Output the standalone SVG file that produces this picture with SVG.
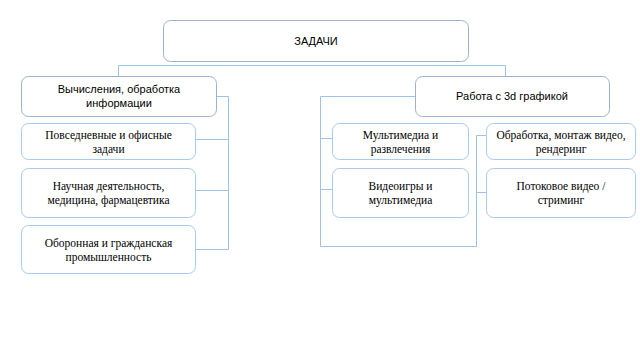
<svg xmlns="http://www.w3.org/2000/svg" width="640" height="360" viewBox="0 0 640 360">
<style>
.main{fill:#fff;stroke:#9cb3cc;stroke-width:1}
.sub{fill:#fff;stroke:#a9cbec;stroke-width:1}
.ln{fill:none;stroke:#9dc3e6;stroke-width:1}
.s{font-family:"Liberation Sans",Arial,sans-serif;font-size:11px;fill:#000;text-anchor:middle}
.t{font-family:"Liberation Serif","Times New Roman",serif;font-size:11.5px;fill:#000;text-anchor:middle}
</style>
<rect width="640" height="360" fill="#fff"/>
<g id="connectors">
<polyline class="ln" points="118.5,76 118.5,65.5 505.5,65.5 505.5,76"/>
<polyline class="ln" points="217,96.5 228.5,96.5 228.5,249.5 196,249.5"/>
<line class="ln" x1="196" y1="139.5" x2="228.5" y2="139.5"/>
<line class="ln" x1="196" y1="190.5" x2="228.5" y2="190.5"/>
<polyline class="ln" points="415,96.5 320.5,96.5 320.5,246.5 476.5,246.5 476.5,135.5 486,135.5"/>
<line class="ln" x1="476.5" y1="192.5" x2="486" y2="192.5"/>
<line class="ln" x1="320.5" y1="138.5" x2="332" y2="138.5"/>
<line class="ln" x1="320.5" y1="189.5" x2="332" y2="189.5"/>
</g>
<g id="root">
<rect class="main" x="163.5" y="20.5" width="305" height="41" rx="7"/>
<text class="s" x="316" y="45">ЗАДАЧИ</text>
</g>
<g id="calc">
<rect class="main" x="21.5" y="76.5" width="195" height="40" rx="7"/>
<text class="s" x="119" y="93">Вычисления, обработка</text>
<text class="s" x="119" y="107">информации</text>
</g>
<g id="daily">
<rect class="sub" x="21.5" y="123.5" width="174" height="36" rx="7"/>
<text class="t" x="108.5" y="139">Повседневные и офисные</text>
<text class="t" x="108.5" y="153">задачи</text>
</g>
<g id="science">
<rect class="sub" x="21.5" y="168.5" width="174" height="49" rx="7"/>
<text class="t" x="108.5" y="190">Научная деятельность,</text>
<text class="t" x="108.5" y="204">медицина, фармацевтика</text>
</g>
<g id="defense">
<rect class="sub" x="21.5" y="225.5" width="174" height="48" rx="7"/>
<text class="t" x="108.5" y="247">Оборонная и гражданская</text>
<text class="t" x="108.5" y="261">промышленность</text>
</g>
<g id="graphics">
<rect class="main" x="415.5" y="76.5" width="194" height="40" rx="7"/>
<text class="s" x="512" y="100">Работа с 3d графикой</text>
</g>
<g id="multimedia">
<rect class="sub" x="332.5" y="123.5" width="136" height="36" rx="7"/>
<text class="t" x="400.5" y="139">Мультимедиа и</text>
<text class="t" x="400.5" y="153">развлечения</text>
</g>
<g id="games">
<rect class="sub" x="332.5" y="168.5" width="136" height="49" rx="7"/>
<text class="t" x="400.5" y="190">Видеоигры и</text>
<text class="t" x="400.5" y="204">мультимедиа</text>
</g>
<g id="editing">
<rect class="sub" x="486.5" y="123.5" width="149" height="36" rx="7"/>
<text class="t" x="561" y="139">Обработка, монтаж видео,</text>
<text class="t" x="561" y="153">рендеринг</text>
</g>
<g id="streaming">
<rect class="sub" x="486.5" y="168.5" width="149" height="49" rx="7"/>
<text class="t" x="561" y="190">Потоковое видео /</text>
<text class="t" x="561" y="204">стриминг</text>
</g>
</svg>
